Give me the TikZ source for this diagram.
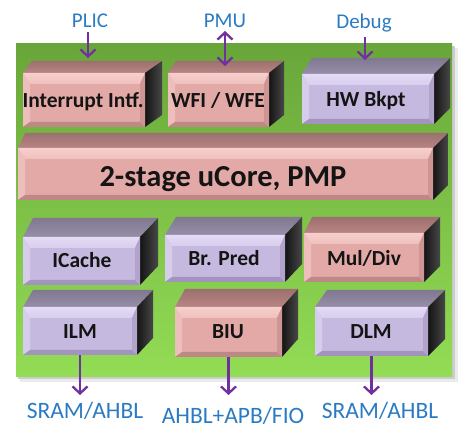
\documentclass[tikz,border=0pt]{standalone}
\usepackage{fontspec}
\setmainfont{Carlito}
\usetikzlibrary{arrows.meta}
\definecolor{pkfront}{HTML}{E3A9A7}
\definecolor{pkhl}{HTML}{F6CFCC}
\definecolor{pkdark}{HTML}{BE8886}
\definecolor{pktop}{HTML}{B88483}
\definecolor{lvfront}{HTML}{C6B9E0}
\definecolor{lvhl}{HTML}{E4DBF6}
\definecolor{lvdark}{HTML}{A394BF}
\definecolor{lvtop}{HTML}{978EA9}
\definecolor{arrc}{HTML}{7030A0}
\definecolor{lblc}{HTML}{2B7BC4}
\definecolor{grtop}{HTML}{69A63A}
\definecolor{grbot}{HTML}{93DC55}
\tikzset{
  frontface/.style={inner sep=0pt, draw=none},
  btxt/.style={inner sep=0pt, text=black!92, font=\fontsize{21.5}{25}\selectfont\bfseries},
  bigtxt/.style={inner sep=0pt, text=black!92, font=\fontsize{30.5}{36}\selectfont\bfseries},
  toplbl/.style={inner sep=4pt, text=lblc, font=\fontsize{21}{25}\selectfont},
  botlbl/.style={inner sep=4pt, text=lblc, font=\fontsize{23.5}{28}\selectfont},
  arr/.style={draw=arrc, line width=2.3pt, -{Straight Barb[length=7pt,width=15pt]}},
  arrb/.style={draw=arrc, line width=2.3pt, {Straight Barb[length=7pt,width=15pt]}-{Straight Barb[length=7pt,width=15pt]}}
}
% #1 colour prefix, #2 x0, #3 y0, #4 x1, #5 y1, #6 back top y, #7 back left x, #8 back right x, #9 node name
\newcommand\bevbox[9]{%
  \pgfmathsetmacro\bdep{#3-#6}%
  \shade[top color=#1top!85!black, bottom color=#1top] (#2,#3) -- (#4,#3) -- (#8,#6) -- (#7,#6) -- cycle;
  \shade[left color=black!92, right color=black!72] (#4,#3) -- (#8,#6) -- (#8,#5-\bdep) -- (#4,#5) -- cycle;
  \fill[#1front] (#2,#3) rectangle (#4,#5);
  \shade[top color=#1hl, bottom color=#1hl!60!#1front] (#2,#3) -- (#4,#3) -- (#4-5,#3+11) -- (#2+7,#3+11) -- cycle;
  \fill[#1hl!55!#1front] (#2,#3) -- (#2+7,#3+11) -- (#2+7,#5-5) -- (#2,#5) -- cycle;
  \fill[#1dark] (#2,#5) -- (#2+7,#5-5) -- (#4-5,#5-5) -- (#4,#5) -- cycle;
  \fill[#1dark!60!#1front] (#4,#3) -- (#4-5,#3+11) -- (#4-5,#5-5) -- (#4,#5) -- cycle;
  \node[frontface, minimum width={(#4-#2)*1pt}, minimum height={(#5-#3)*1pt}] (#9) at ({(#2+#4)/2},{(#3+#5)/2}) {};
}
\begin{document}
\begin{tikzpicture}[x=1pt,y=-1pt]
\useasboundingbox (0,0) rectangle (474,446);
\fill[white] (0,0) rectangle (474,446);
% green panel with shadow
\fill[black!8] (20,48) rectangle (458,382);
\fill[black!20] (18,46) rectangle (455,379);
\shade[top color=grtop, bottom color=grbot] (16,44) rectangle (452,376);

% row 1
\bevbox{pk}{23}{73}{145}{127}{61}{32}{162}{intr}
\bevbox{pk}{168}{73}{269}{127}{61}{176}{284}{wfi}
\bevbox{lv}{302}{74}{434}{124}{58}{312}{450}{hwb}
% row 2
\bevbox{pk}{18}{148}{433}{200}{133}{25}{448}{core}
% row 3
\bevbox{lv}{23}{237}{140}{285}{218}{33}{158}{icache}
\bevbox{lv}{165}{235}{285}{282}{217}{176}{302}{brp}
\bevbox{pk}{304}{233}{424}{282}{217}{312}{440}{mul}
% row 4
\bevbox{lv}{23}{307}{137}{355}{290}{33}{153}{ilm}
\bevbox{pk}{175}{307}{282}{357}{289}{185}{298}{biu}
\bevbox{lv}{315}{307}{428}{356}{290}{327}{445}{dlm}

% box texts
\node[btxt, anchor=base] (intrT) at (83,108) {Interrupt Intf.};
\node[btxt, anchor=base] (wfiT) at (218,108) {WFI / WFE};
\node[btxt, anchor=base] (hwbT) at (366,107) {HW Bkpt};
\node[bigtxt, anchor=base] (coreT) at (223,187) {2-stage uCore, PMP};
\node[btxt, anchor=base] (icacheT) at (82,268) {ICache};
\node[btxt, anchor=base] (brpT) at (224,266) {Br. Pred};
\node[btxt, anchor=base] (mulT) at (364,266) {Mul/Div};
\node[btxt, anchor=base] (ilmT) at (80,338) {ILM};
\node[btxt, anchor=base] (biuT) at (228,338) {BIU};
\node[btxt, anchor=base] (dlmT) at (371,339) {DLM};

% external labels
\node[toplbl, anchor=base] (plic) at (90,28) {PLIC};
\node[toplbl, anchor=base] (pmu) at (225,28) {PMU};
\node[toplbl, anchor=base] (dbg) at (364,29) {Debug};
\node[botlbl, anchor=base] (sram1) at (85,418) {SRAM/AHBL};
\node[botlbl, anchor=base] (ahbl) at (233,423) {AHBL+APB/FIO};
\node[botlbl, anchor=base] (sram2) at (380,418) {SRAM/AHBL};

% connector end points
\coordinate (plicE) at (88,58);
\coordinate (pmuS) at (225,31);
\coordinate (pmuE) at (225,66);
\coordinate (dbgE) at (365,60);
\coordinate (botE) at (0,395);

\draw[arr] (plic.south -| plicE) -- (plicE);
\draw[arrb] (pmuS) -- (pmuE);
\draw[arr] (dbg.south -| dbgE) -- (dbgE);
\draw[arr] (ilm.south) -- (ilm.south |- botE);
\draw[arr] (biu.south) -- (biu.south |- botE);
\draw[arr] (dlm.south) -- (dlm.south |- botE);
\end{tikzpicture}
\end{document}
